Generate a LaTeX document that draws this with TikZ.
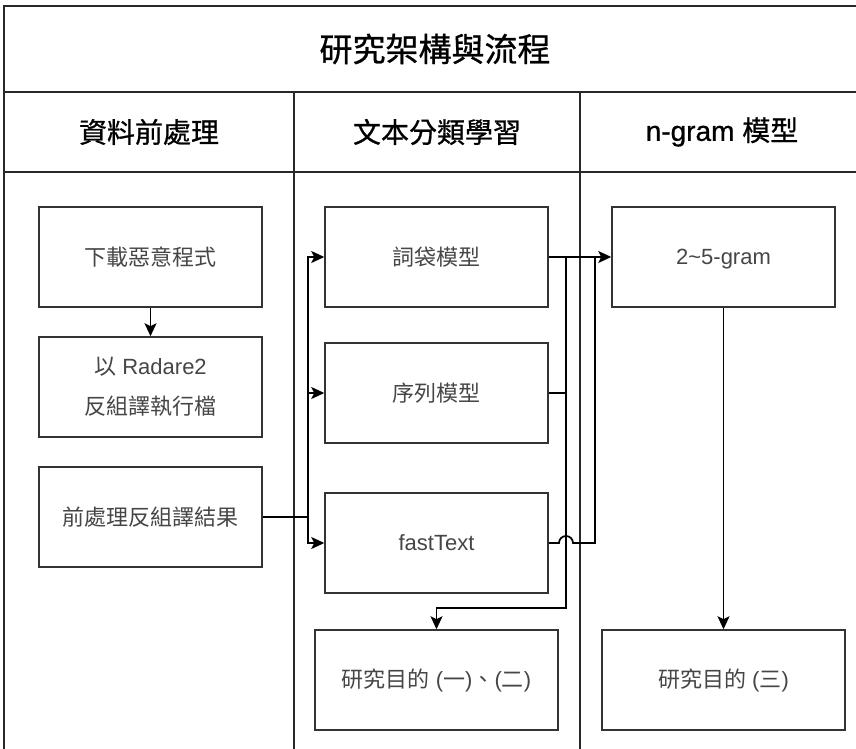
\documentclass[tikz,border=0pt]{standalone}
\usepackage{fontspec}
\setmainfont{Liberation Sans}
\newfontfamily\cjk{Noto Sans CJK TC}
\newfontfamily\cjkhead[FakeBold=0.8]{Noto Sans CJK TC}
\newfontfamily\lathead[FakeBold=0.8]{Liberation Sans}
\usetikzlibrary{arrows.meta}
\definecolor{framec}{RGB}{40,40,40}
\definecolor{boxc}{RGB}{51,51,51}
\definecolor{txtc}{RGB}{70,70,70}
\tikzset{
  frameline/.style={draw=framec, line width=1.5pt},
  stepbox/.style={draw=boxc, line width=1.5pt, minimum width=223pt, minimum height=100pt,
    inner sep=0pt, text=txtc, align=center, font=\fontsize{22}{40}\selectfont},
  goalbox/.style={stepbox, minimum width=243pt},
  headtext/.style={text=black, font=\fontsize{28}{32}\selectfont},
  titletext/.style={text=black, font=\fontsize{33}{38}\selectfont},
  conn/.style={draw=black, line width=1.7pt},
  arr/.style={conn, -{Stealth[length=13pt,width=12pt,inset=3pt]}}
}
\begin{document}
\begin{tikzpicture}[x=1pt,y=-1pt]
\useasboundingbox (0,0) rectangle (856,749);
\clip (0,0) rectangle (856,749);
\fill[white] (0,0) rectangle (856,749);
% frame
\draw[frameline] (4,760) -- (4,6) -- (870,6);
\draw[frameline] (4,92) -- (870,92);
\draw[frameline] (4,172) -- (870,172);
\draw[frameline] (294,92) -- (294,760);
\draw[frameline] (580,92) -- (580,760);
% title and headers
\node[titletext] (title) at (435,49) {\cjkhead 研究架構與流程};
\node[headtext] (h1) at (149,132) {\cjkhead 資料前處理};
\node[headtext] (h2) at (437,132) {\cjkhead 文本分類學習};
\node[headtext] (h3) at (722,132) {{\lathead n-gram} {\cjkhead 模型}};
% boxes
\node[stepbox] (dl) at (150.5,257) {\cjk 下載惡意程式};
\node[stepbox] (r2) at (150.5,387) {{\cjk 以} Radare2\\{\cjk 反組譯執行檔}};
\node[stepbox] (pre) at (150.5,517) {\cjk 前處理反組譯結果};
\node[stepbox] (bow) at (436.5,257) {\cjk 詞袋模型};
\node[stepbox] (seq) at (436.5,393) {\cjk 序列模型};
\node[stepbox] (ft) at (436.5,543) {fastText};
\node[stepbox] (ng) at (723.5,257) {\raisebox{0pt}[\height][0pt]{2\textasciitilde 5-gram}};
\node[goalbox] (g12) at (436.5,680) {{\cjk 研究目的} ({\cjk 一}){\cjk 、}({\cjk 二})};
\node[goalbox] (g3) at (723.5,680) {{\cjk 研究目的} ({\cjk 三})};
% junction coordinates
\coordinate (jl) at (308,517);
\coordinate (jr) at (566,257);
\coordinate (jd) at (566,608);
\coordinate (jf) at (595,543);
\coordinate (jfu) at (595,257);
% connectors
\draw[arr] (dl.south) -- (r2.north);
\draw[conn] (pre.east) -- (jl);
\draw[arr] (jl) |- (bow.west);
\draw[arr] (jl) |- (seq.west);
\draw[arr] (jl) |- (ft.west);
\draw[arr] (bow.east) -- (ng.west);
\draw[conn] (seq.east) -- (seq.east -| jr);
\draw[arr] (jr) -- (jd) -| (g12.north);
\draw[conn] (ft.east) -- (559,543) arc[start angle=180, end angle=360, radius=7] -- (jf) -- (jfu);
\draw[arr] (ng.south) -- (g3.north);
\end{tikzpicture}
\end{document}
